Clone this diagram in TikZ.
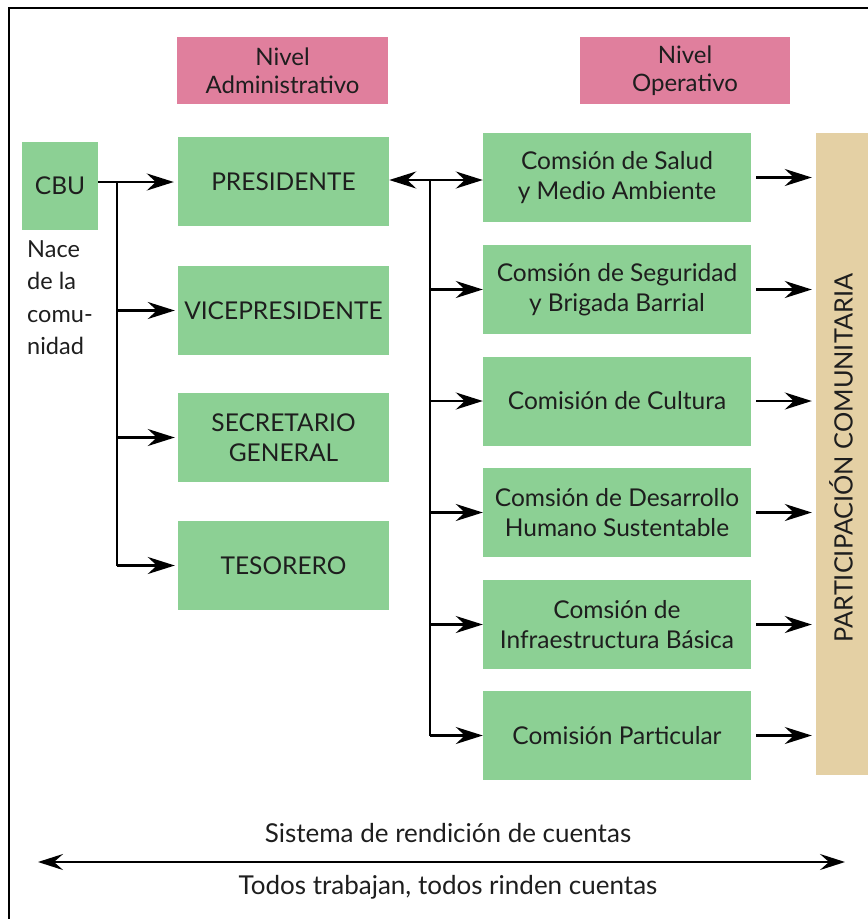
\documentclass[tikz,border=0pt]{standalone}
\usepackage{fontspec}
\setmainfont{Lato}
\usetikzlibrary{arrows.meta}
\definecolor{boxgreen}{RGB}{140,208,148}
\definecolor{boxpink}{RGB}{224,127,157}
\definecolor{boxtan}{RGB}{228,208,164}
\definecolor{inkgray}{RGB}{30,30,30}
\begin{document}
\begin{tikzpicture}[x=1pt,y=-1pt,
  gbox/.style={fill=boxgreen,draw=none,minimum width=211pt,minimum height=89pt,align=center,inner sep=0pt,font=\fontsize{24.5}{30}\selectfont,text=inkgray},
  rbox/.style={gbox,minimum width=268pt},
  pbox/.style={fill=boxpink,draw=none,minimum width=211pt,minimum height=67pt,align=center,inner sep=0pt,font=\fontsize{24}{28}\selectfont,text=inkgray},
  arr/.style={line width=2.6pt,-{Stealth[length=27pt,width=17pt,inset=9pt]}},
  darr/.style={line width=2.6pt,{Stealth[length=27pt,width=17pt,inset=9pt]}-{Stealth[length=27pt,width=17pt,inset=9pt]}},
  trunk/.style={line width=1.8pt},
  lbl/.style={font=\fontsize{23.5}{32.5}\selectfont,text=inkgray}
]
\useasboundingbox (0,0) rectangle (868,919);
% frame
\draw[line width=2pt] (9,930) -- (9,8) -- (880,8);
% level headers
\node[pbox] (adm) at (282.5,70.5) {Nivel\\Administrativo};
\node[pbox,minimum width=210pt] (ope) at (685,70.5) {Nivel\\Operativo};
% left column
\node[gbox,minimum width=76pt,minimum height=88pt] (cbu) at (60,186) {CBU};
\node[gbox] (pres) at (283.5,181.5) {PRESIDENTE};
\node[gbox] (vice) at (283.5,310.5) {VICEPRESIDENTE};
\node[gbox] (secr) at (283.5,437.5) {SECRETARIO\\GENERAL};
\node[gbox] (teso) at (283.5,565.5) {TESORERO};
\node[lbl,anchor=north west,align=left,inner sep=0pt] (nace) at (27,240) {Nace\\de la\\comu-\\nidad};
% right column
\node[rbox] (salud) at (617,177.5) {Comsión de Salud\\y Medio Ambiente};
\node[rbox] (segu) at (617,289.5) {Comsión de Seguridad\\y Brigada Barrial};
\node[rbox] (cult) at (617,401) {Comisión de Cultura};
\node[rbox] (desa) at (617,512.5) {Comsión de Desarrollo\\Humano Sustentable};
\node[rbox] (infra) at (617,624.5) {Comsión de\\Infraestructura Básica};
\node[rbox] (part) at (617,735.5) {Comisión Particular};
% participation bar
\node[fill=boxtan,draw=none,minimum width=60pt,minimum height=642pt,inner sep=0pt] (tan) at (846,454) {};
\node[rotate=90,font=\fontsize{25.3}{28}\selectfont,text=inkgray] (partc) at (841,458) {PARTICIPACIÓN COMUNITARIA};
% left connectors
\coordinate (j1) at (117,182);
\draw[arr,shorten >=4pt] (cbu.east |- j1) -- (pres.west |- j1);
\draw[trunk] (j1) -- (j1 |- teso.west);
\draw[arr,shorten >=3pt] (j1 |- vice.west) -- (vice.west);
\draw[arr,shorten >=3pt] (j1 |- secr.west) -- (secr.west);
\draw[arr,shorten >=3pt] (j1 |- teso.west) -- (teso.west);
% right connectors
\coordinate (j2) at (430,180);
\draw[darr] (pres.east |- j2) -- (salud.west |- j2);
\draw[trunk] (j2) -- (j2 |- part.west);
\foreach \n in {segu,cult,desa,infra,part}{
  \draw[arr] (j2 |- \n.west) -- (\n.west);
}
\foreach \n in {salud,segu,cult,desa,infra,part}{
  \draw[arr,shorten <=5pt,shorten >=4pt] (\n.east) -- (\n.east -| tan.west);
}
% bottom
\node[font=\fontsize{26}{30}\selectfont,text=inkgray] (sis) at (448,833) {Sistema de rendición de cuentas};
\node[font=\fontsize{26}{30}\selectfont,text=inkgray] (tod) at (448,887) {Todos trabajan, todos rinden cuentas};
\coordinate (bl) at (38,862);
\coordinate (br) at (845,862);
\draw[line width=2.2pt,{Stealth[length=25pt,width=16pt,inset=9pt]}-{Stealth[length=25pt,width=16pt,inset=9pt]}] (bl) -- (br);
\end{tikzpicture}
\end{document}
